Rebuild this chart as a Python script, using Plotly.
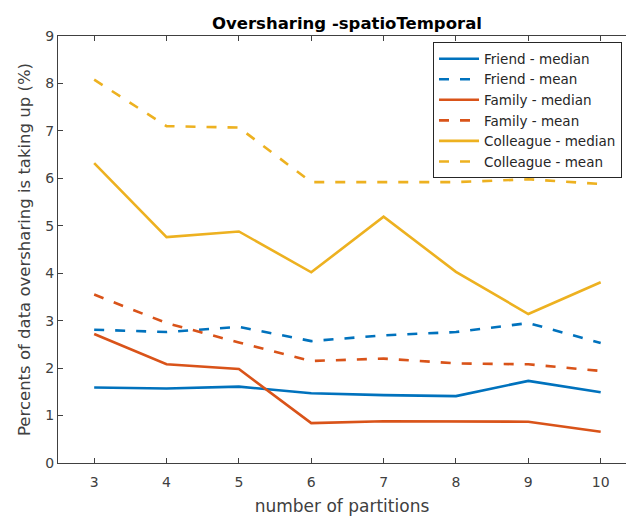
import plotly.graph_objects as go

# number of partitions
partitions = [3, 4, 5, 6, 7, 8, 9, 10]

# percent of data oversharing is taking up
friend_median = [1.59, 1.57, 1.61, 1.47, 1.43, 1.41, 1.73, 1.49]
friend_mean = [2.81, 2.76, 2.87, 2.57, 2.69, 2.76, 2.95, 2.53]
family_median = [2.72, 2.08, 1.98, 0.84, 0.88, 0.87, 0.87, 0.66]
family_mean = [3.55, 2.95, 2.54, 2.15, 2.20, 2.10, 2.08, 1.94]
colleague_median = [6.32, 4.76, 4.88, 4.02, 5.19, 4.03, 3.14, 3.81]
colleague_mean = [8.08, 7.10, 7.07, 5.92, 5.92, 5.92, 5.98, 5.88]

y_ticks = [0, 1, 2, 3, 4, 5, 6, 7, 8, 9]

BLUE = "#0072BD"
ORANGE = "#D95319"
YELLOW = "#EDB120"
DASH = "10px,11px"
AXIS = "#404040"

series = [
    ("Friend - median", friend_median, BLUE, "solid"),
    ("Friend - mean", friend_mean, BLUE, DASH),
    ("Family - median", family_median, ORANGE, "solid"),
    ("Family - mean", family_mean, ORANGE, DASH),
    ("Colleague - median", colleague_median, YELLOW, "solid"),
    ("Colleague - mean", colleague_mean, YELLOW, DASH),
]

fig = go.Figure()
for name, vals, color, dash in series:
    fig.add_trace(go.Scatter(
        x=partitions, y=vals, name=name, mode="lines",
        line=dict(color=color, width=2.6, dash=dash),
    ))

font_family = "DejaVu Sans, Liberation Sans, Arial, sans-serif"

fig.update_layout(
    width=626, height=516,
    margin=dict(l=58, r=0, t=36, b=53),
    plot_bgcolor="white", paper_bgcolor="white",
    font=dict(family=font_family, color="#262626"),
    showlegend=True,
    legend=dict(
        x=0.993, y=0.985, xanchor="right", yanchor="top",
        bgcolor="white", bordercolor="#262626", borderwidth=1,
        font=dict(size=13.5, family=font_family, color="#262626"),
        tracegroupgap=0, itemwidth=40,
    ),
    xaxis=dict(
        range=[2.5, 10.35], tickmode="array", tickvals=partitions,
        ticks="inside", ticklen=5, tickcolor=AXIS,
        showline=True, linecolor=AXIS, linewidth=1, mirror="ticks",
        showgrid=False, zeroline=False, ticklabelstandoff=6,
        tickfont=dict(size=14, color="#404040"),
        title=dict(text="number of partitions", font=dict(size=17, color="#404040"), standoff=12),
    ),
    yaxis=dict(
        range=[0, 9], tickmode="array", tickvals=y_ticks,
        ticks="inside", ticklen=5, tickcolor=AXIS,
        showline=True, linecolor=AXIS, linewidth=1,
        showgrid=False, zeroline=False,
        tickfont=dict(size=14, color="#404040"),
        title=dict(text="Percents of data oversharing is taking up (%)",
                   font=dict(size=16.5, color="#404040"), standoff=10),
    ),
    annotations=[dict(
        text="<b>Oversharing -spatioTemporal</b>", x=6.5, xref="x",
        y=1 + (36 - 23) / 427.6, yref="paper", yanchor="middle", showarrow=False,
        font=dict(size=16.5, color="#000000"),
    )],
)

fig.write_html("out.html")
